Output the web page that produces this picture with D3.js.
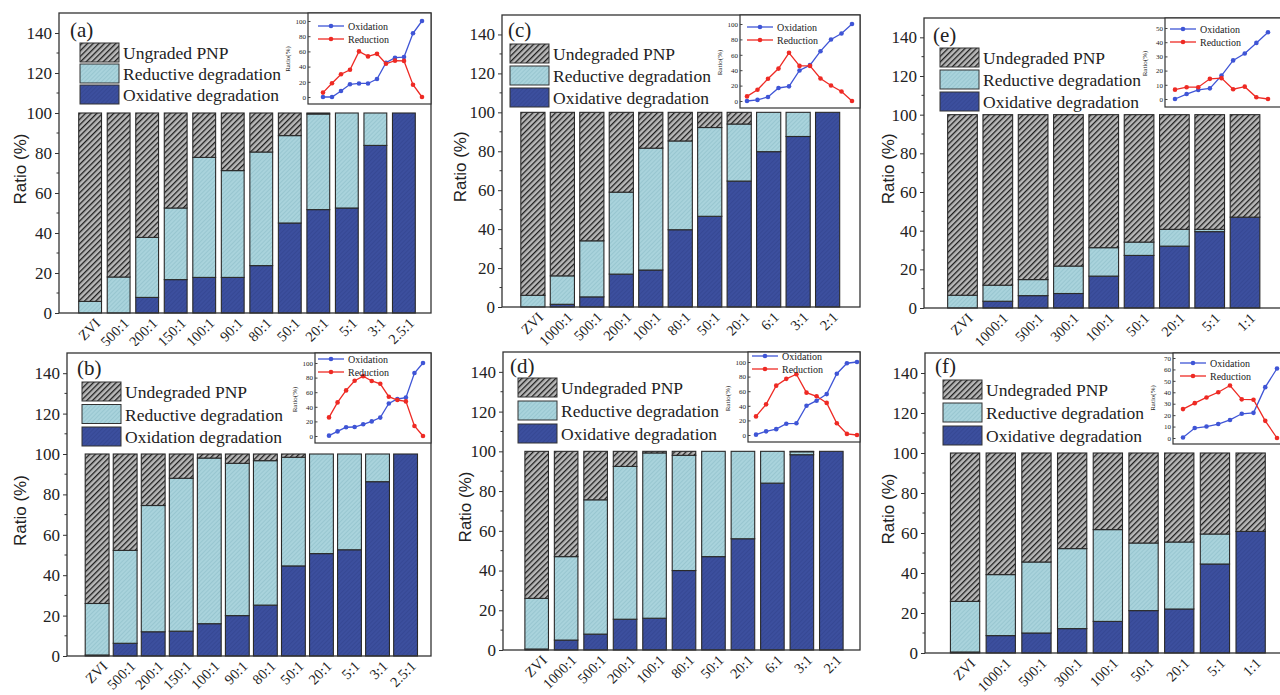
<!DOCTYPE html>
<html>
<head>
<meta charset="utf-8">
<script src="https://cdn.jsdelivr.net/npm/d3@7"></script>
<style>
  body { margin: 0; background: #fff; }
  svg { display: block; }
  text { font-family: "Liberation Serif", "Times New Roman", serif; fill: #222; }
</style>
</head>
<body>
<div id="chart"></div>
<script>
// ---- data (percent) ----
const catsA = ['ZVI', '500:1', '200:1', '150:1', '100:1', '90:1', '80:1', '50:1', '20:1', '5:1', '3:1', '2.5:1'];
const oxA = [0, 0, 7.8, 16.7, 17.8, 17.8, 23.7, 45, 51.7, 52.5, 83.8, 100];
const redA = [5.8, 18, 30, 35.8, 60, 53.4, 56.8, 43.7, 47.8, 47.5, 16.2, 0];

const catsB = ['ZVI', '500:1', '200:1', '150:1', '100:1', '90:1', '80:1', '50:1', '20:1', '5:1', '3:1', '2.5:1'];
const oxB = [0.5, 6.3, 12, 12.3, 16, 20, 25.2, 44.6, 50.7, 52.6, 86.3, 100];
const redB = [25.5, 46, 62.5, 75.7, 82, 75.4, 71.5, 53.8, 49.3, 47.4, 13.7, 0];

const catsC = ['ZVI', '1000:1', '500:1', '200:1', '100:1', '80:1', '50:1', '20:1', '6:1', '3:1', '2:1'];
const oxC = [0, 1.4, 5.2, 16.9, 19, 39.7, 46.6, 64.7, 79.8, 87.6, 100];
const redC = [6, 14.6, 28.8, 42.1, 62.6, 45.6, 45.6, 29.3, 20.2, 12.4, 0];

const catsD = ['ZVI', '1000:1', '500:1', '200:1', '100:1', '80:1', '50:1', '20:1', '6:1', '3:1', '2:1'];
const oxD = [0.5, 5, 8, 15.5, 16, 40, 47, 56, 84, 98.3, 100];
const redD = [25.5, 42, 67.6, 76.9, 83.2, 58, 53, 44, 16, 1.5, 0];

const catsE = ['ZVI', '1000:1', '500:1', '300:1', '100:1', '50:1', '20:1', '5:1', '1:1'];
const oxE = [0, 3.5, 6.4, 7.5, 16.5, 27.2, 32, 39.5, 47];
const redE = [6.6, 8.3, 8.3, 14.2, 14.7, 6.9, 8.7, 1.2, 0];

const catsF = ['ZVI', '1000:1', '500:1', '300:1', '100:1', '50:1', '20:1', '5:1', '1:1'];
const oxF = [0.5, 8.7, 10, 12.2, 15.8, 21.2, 22, 44.5, 60.8];
const redF = [25.3, 30.5, 35.5, 40, 45.9, 33.8, 33.5, 15, 0];

const legendA = ['Ungraded PNP', 'Reductive degradation', 'Oxidative degradation'];
const legendB = ['Undegraded PNP', 'Reductive degradation', 'Oxidation degradation'];
const legendStd = ['Undegraded PNP', 'Reductive degradation', 'Oxidative degradation'];
const insetNames = ['Oxidation', 'Reduction'];

const yTicks = [0, 20, 40, 60, 80, 100, 120, 140];
const insetTicks100 = [0, 20, 40, 60, 80, 100];
const insetTicks50 = [0, 10, 20, 30, 40, 50];
const insetTicks70 = [0, 10, 20, 30, 40, 50, 60, 70];

// ---- layout ----
const W = 1280, H = 695;
const panels = [
  { tag: '(a)', cats: catsA, ox: oxA, red: redA, legend: legendA,
    f: { l: 59, t: 13, r: 431, b: 313 }, band: [73, 421], pad: 0.2, ylabX: 20,
    leg: { x: 80, y: 43, dy: 21 }, tagPos: [70, 37],
    inset: { l: 308, r: 431, t: 13, b: 104, y0: 97, y1: 21, max: 100, ticks: insetTicks100, px: [323, 422], lx: 318, ly: 26 } },
  { tag: '(c)', cats: catsC, ox: oxC, red: redC, legend: legendStd,
    f: { l: 502, t: 15, r: 860, b: 307 }, band: [515.5, 845], pad: 0.18, ylabX: 460,
    leg: { x: 510, y: 44, dy: 22 }, tagPos: [508, 37],
    inset: { l: 740, r: 860, t: 15, b: 108, y0: 101, y1: 24, max: 100, ticks: insetTicks100, px: [747, 852], lx: 747, ly: 27 } },
  { tag: '(e)', cats: catsE, ox: oxE, red: redE, legend: legendStd,
    f: { l: 924, t: 18, r: 1281, b: 308 }, band: [942, 1265.5], pad: 0.16, ylabX: 888,
    leg: { x: 940, y: 48, dy: 22 }, tagPos: [933, 42],
    inset: { l: 1165, r: 1281, t: 18, b: 107, y0: 99, y1: 28, max: 50, ticks: insetTicks50, px: [1175, 1268], lx: 1170, ly: 29 } },
  { tag: '(b)', cats: catsB, ox: oxB, red: redB, legend: legendB,
    f: { l: 67, t: 353, r: 431, b: 656 }, band: [81, 421.7], pad: 0.15, ylabX: 20,
    leg: { x: 82, y: 382, dy: 22.5 }, tagPos: [77, 375], cover: [0, 346, 432, 349],
    inset: { l: 315, r: 431, t: 353, b: 443, y0: 436, y1: 363, max: 100, ticks: insetTicks100, px: [329, 423], lx: 318, ly: 359 } },
  { tag: '(d)', cats: catsD, ox: oxD, red: redD, legend: legendStd,
    f: { l: 503, t: 352, r: 860, b: 650 }, band: [519, 849], pad: 0.2, ylabX: 465,
    leg: { x: 518, y: 378, dy: 23 }, tagPos: [510, 373], cover: [432, 346, 429, 349],
    inset: { l: 748, r: 860, t: 352, b: 442, y0: 435, y1: 362, max: 100, ticks: insetTicks100, px: [756, 857], lx: 752, ly: 356 } },
  { tag: '(f)', cats: catsF, ox: oxF, red: redF, legend: legendStd,
    f: { l: 925, t: 353, r: 1281, b: 653 }, band: [944, 1271.7], pad: 0.18, ylabX: 888,
    leg: { x: 943, y: 380, dy: 23 }, tagPos: [935, 373], cover: [861, 346, 419, 349],
    inset: { l: 1173, r: 1281, t: 353, b: 444, y0: 438, y1: 358, max: 70, ticks: insetTicks70, px: [1183, 1277], lx: 1180, ly: 363 } }
];

const svg = d3.select('#chart').append('svg').attr('width', W).attr('height', H);

// hatch patterns
const defs = svg.append('defs');
function hatch(id, bg, fg, size, sw) {
  const p = defs.append('pattern').attr('id', id)
    .attr('patternUnits', 'userSpaceOnUse')
    .attr('width', size).attr('height', size)
    .attr('patternTransform', 'rotate(45)');
  p.append('rect').attr('width', size).attr('height', size).attr('fill', bg);
  p.append('line').attr('x1', 0).attr('y1', 0).attr('x2', 0).attr('y2', size)
    .attr('stroke', fg).attr('stroke-width', sw);
}
hatch('hUnd', '#b8b8b8', '#1f1f1f', 4, 2.6);
hatch('hRed', '#a9d3dc', '#88b9c5', 3, 1);
hatch('hOx', '#3c4f9e', '#30418a', 3, 1);
const fills = { und: 'url(#hUnd)', red: 'url(#hRed)', ox: 'url(#hOx)' };

panels.forEach((p) => {
  const g = svg.append('g');
  if (p.cover) {
    g.append('rect').attr('x', p.cover[0]).attr('y', p.cover[1])
      .attr('width', p.cover[2]).attr('height', p.cover[3]).attr('fill', '#fff');
  }

  const x = d3.scaleBand().domain(p.cats).range(p.band).padding(p.pad);
  const y = d3.scaleLinear().domain([0, 150]).range([p.f.b, p.f.t]);

  const rows = p.cats.map((c, i) => ({ cat: c, ox: p.ox[i], red: p.red[i], und: Math.max(0, 100 - p.ox[i] - p.red[i]) }));
  const series = d3.stack().keys(['ox', 'red', 'und'])(rows);

  series.forEach((s) => {
    g.append('g').selectAll('rect').data(s).join('rect')
      .attr('x', (d) => x(d.data.cat))
      .attr('y', (d) => y(d[1]))
      .attr('width', x.bandwidth())
      .attr('height', (d) => Math.max(0, y(d[0]) - y(d[1])))
      .attr('fill', fills[s.key])
      .attr('stroke', '#2a2a2a')
      .attr('stroke-width', 1.1);
  });

  // frame
  g.append('rect').attr('x', p.f.l).attr('y', p.f.t)
    .attr('width', p.f.r - p.f.l).attr('height', p.f.b - p.f.t)
    .attr('fill', 'none').attr('stroke', '#333').attr('stroke-width', 1.3);

  // y axis
  const yAxis = d3.axisLeft(y).tickValues(yTicks).tickSize(4).tickPadding(3);
  const ya = g.append('g').attr('transform', `translate(${p.f.l},0)`).call(yAxis);
  ya.attr('font-family', null);
  ya.select('.domain').remove();
  ya.selectAll('line').attr('stroke', '#333');
  ya.selectAll('text').style('font-size', '17px').attr('fill', '#222');
  // minor ticks
  g.append('g').selectAll('line').data(d3.range(10, 150, 20)).join('line')
    .attr('x1', p.f.l - 2.5).attr('x2', p.f.l)
    .attr('y1', (d) => y(d)).attr('y2', (d) => y(d))
    .attr('stroke', '#333');

  // x labels
  g.append('g').selectAll('text').data(p.cats).join('text')
    .attr('transform', (d) => `translate(${x(d) + x.bandwidth() / 2 + 4},${p.f.b + 4}) rotate(-45)`)
    .attr('text-anchor', 'end')
    .attr('dy', '0.7em')
    .style('font-size', '14.5px')
    .text((d) => d);

  // y label
  g.append('text')
    .attr('transform', `translate(${p.ylabX},${y(72)}) rotate(-90)`)
    .attr('text-anchor', 'middle')
    .attr('dy', '0.35em')
    .style('font-family', '"Liberation Sans", Arial, sans-serif')
    .style('font-size', '17px')
    .text('Ratio (%)');

  // tag
  g.append('text').attr('x', p.tagPos[0]).attr('y', p.tagPos[1])
    .style('font-size', '21px').text(p.tag);

  // legend
  const legFills = [fills.und, fills.red, fills.ox];
  p.legend.forEach((t, i) => {
    const ly = p.leg.y + i * p.leg.dy;
    g.append('rect').attr('x', p.leg.x).attr('y', ly)
      .attr('width', 39).attr('height', 19)
      .attr('fill', legFills[i]).attr('stroke', '#333');
    g.append('text').attr('x', p.leg.x + 43).attr('y', ly + 10)
      .attr('dy', '0.35em').style('font-size', '17.5px').text(t);
  });

  // inset
  const n = p.inset;
  const ig = g.append('g');
  ig.append('rect').attr('x', n.l).attr('y', n.t)
    .attr('width', n.r - n.l).attr('height', n.b - n.t)
    .attr('fill', '#fff').attr('stroke', '#333').attr('stroke-width', 1.2);
  const ix = d3.scalePoint().domain(p.cats).range(n.px);
  const iy = d3.scaleLinear().domain([0, n.max]).range([n.y0, n.y1]);
  const iAxis = d3.axisLeft(iy).tickValues(n.ticks).tickSize(-2.5).tickPadding(2);
  const ia = ig.append('g').attr('transform', `translate(${n.l},0)`).call(iAxis);
  ia.attr('font-family', null);
  ia.select('.domain').remove();
  ia.selectAll('line').attr('stroke', '#444');
  ia.selectAll('text').style('font-size', '7px').attr('fill', '#333');
  ig.append('text')
    .attr('transform', `translate(${n.l - 18},${(n.y0 + n.y1) / 2}) rotate(-90)`)
    .attr('text-anchor', 'middle').style('font-size', '7px').text('Ratio(%)');

  const lineColors = ['#3f55d6', '#ee2a24'];
  [p.ox, p.red].forEach((vals, k) => {
    const pts = p.cats.map((c, i) => [ix(c), iy(vals[i])]);
    ig.append('path').attr('d', d3.line()(pts))
      .attr('fill', 'none').attr('stroke', lineColors[k]).attr('stroke-width', 1.3);
    ig.append('g').selectAll('circle').data(pts).join('circle')
      .attr('cx', (d) => d[0]).attr('cy', (d) => d[1]).attr('r', 2.3)
      .attr('fill', lineColors[k]);
    const ly = n.ly + k * 13;
    ig.append('line').attr('x1', n.lx).attr('x2', n.lx + 26).attr('y1', ly).attr('y2', ly)
      .attr('stroke', lineColors[k]).attr('stroke-width', 1.3);
    ig.append('circle').attr('cx', n.lx + 13).attr('cy', ly).attr('r', 2.3).attr('fill', lineColors[k]);
    ig.append('text').attr('x', n.lx + 30).attr('y', ly).attr('dy', '0.35em')
      .style('font-size', '10px').text(insetNames[k]);
  });
});
</script>
</body>
</html>
